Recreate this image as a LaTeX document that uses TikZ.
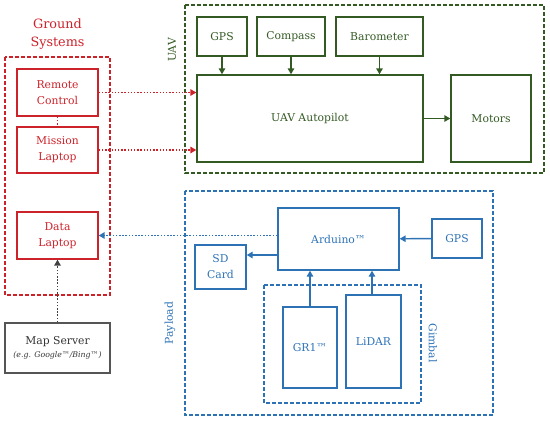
\documentclass[tikz,border=0pt]{standalone}
\usepackage{fontspec}
\setmainfont{DejaVu Serif}
\usetikzlibrary{arrows.meta}
\definecolor{gndred}{RGB}{204,34,42}
\definecolor{uavgreen}{RGB}{52,90,36}
\definecolor{plblue}{RGB}{46,114,182}
\definecolor{mapgray}{RGB}{85,85,85}

\begin{document}
\begin{tikzpicture}[x=1pt, y=-1pt, line width=1.4pt, font=\fontsize{10.8}{16}\selectfont,
	main/.style = {draw, align=center, inner sep=0pt},
	grp/.style = {draw, line width=1.2pt, dash pattern=on 4pt off 2pt},
	link/.style = {-{Triangle[length=6pt,width=6.5pt]}},
	dots/.style = {line width=1.6pt, dash pattern=on 1.5pt off 1.7pt, -{Triangle[length=6pt,width=6.5pt]}}]
	\useasboundingbox (0,0) rectangle (550,421);

	% ground systems
	\draw[grp, gndred] (5,57) rectangle (110,295);
	\node[text=gndred, align=center, font=\fontsize{12.8}{18}\selectfont] (gndlbl) at (57.5,34) {Ground\\Systems};
	\node[main, gndred, minimum width=81, minimum height=47] (rc) at (57.5,92.5) {Remote\\Control};
	\node[main, gndred, minimum width=81, minimum height=46] (ml) at (57.5,150) {Mission\\Laptop};
	\node[main, gndred, minimum width=81, minimum height=47] (dl) at (57.5,235.5) {Data\\Laptop};
	\node[main, mapgray, text=black!80, minimum width=105, minimum height=50] (map) at (57.5,348)
		{Map Server\\[-3pt]{\fontsize{7.8}{10}\selectfont\itshape (e.g. Google™/Bing™)}};

	% uav
	\draw[grp, uavgreen] (185,5) rectangle (544,173);
	\node[rotate=90, text=uavgreen] (uavlbl) at (172,50) {UAV};
	\node[main, uavgreen, minimum width=50, minimum height=39] (gps) at (222,36.5) {GPS};
	\node[main, uavgreen, minimum width=68, minimum height=39] (comp) at (291,36.5) {Compass};
	\node[main, uavgreen, minimum width=87, minimum height=39] (baro) at (379.5,36.5) {Barometer};
	\node[main, uavgreen, minimum width=226, minimum height=87] (ap) at (310,118.5) {UAV Autopilot};
	\node[main, uavgreen, minimum width=80, minimum height=87] (mot) at (491,118.5) {Motors};

	% payload
	\draw[grp, plblue] (185,191) rectangle (493,415);
	\node[rotate=90, text=plblue] (pllbl) at (170,323) {Payload};
	\draw[grp, plblue] (264,285) rectangle (421,403);
	\node[rotate=-90, text=plblue] (gimlbl) at (433,343) {Gimbal};
	\node[main, plblue, minimum width=121, minimum height=62] (ard) at (338.5,239) {Arduino™};
	\node[main, plblue, minimum width=50, minimum height=39] (gps2) at (457,238.5) {GPS};
	\node[main, plblue, minimum width=51, minimum height=44] (sd) at (220.5,267) {SD\\Card};
	\node[main, plblue, minimum width=54, minimum height=81] (gr) at (310,347.5) {GR1™};
	\node[main, plblue, minimum width=55, minimum height=93] (lid) at (373.5,341.5) {LiDAR};

	% links
	\draw[dots, gndred, -] (rc) -- (ml);
	\draw[dots, gndred] (rc.east) -- (rc.east -| ap.west);
	\draw[dots, gndred] (ml.east) -- (ml.east -| ap.west);
	\draw[dots, black!75] (map) -- (dl);
	\draw[dots, plblue] (ard.west |- dl.east) -- (dl.east);
	\foreach \s in {gps, comp, baro}
		\draw[link, uavgreen] (\s.south) -- (\s.south |- ap.north);
	\draw[link, uavgreen] (ap.east) -- (mot.west);
	\draw[link, plblue] (gps2) -- (ard);
	\coordinate (sdin) at ([yshift=-16pt]ard.west);
	\draw[link, plblue] (sdin) -- (sdin -| sd.east);
	\draw[link, plblue] (gr.north) -- (gr.north |- ard.south);
	\draw[link, plblue] ([xshift=-1.5pt]lid.north) -- ([xshift=-1.5pt]lid.north |- ard.south);
\end{tikzpicture}
\end{document}
